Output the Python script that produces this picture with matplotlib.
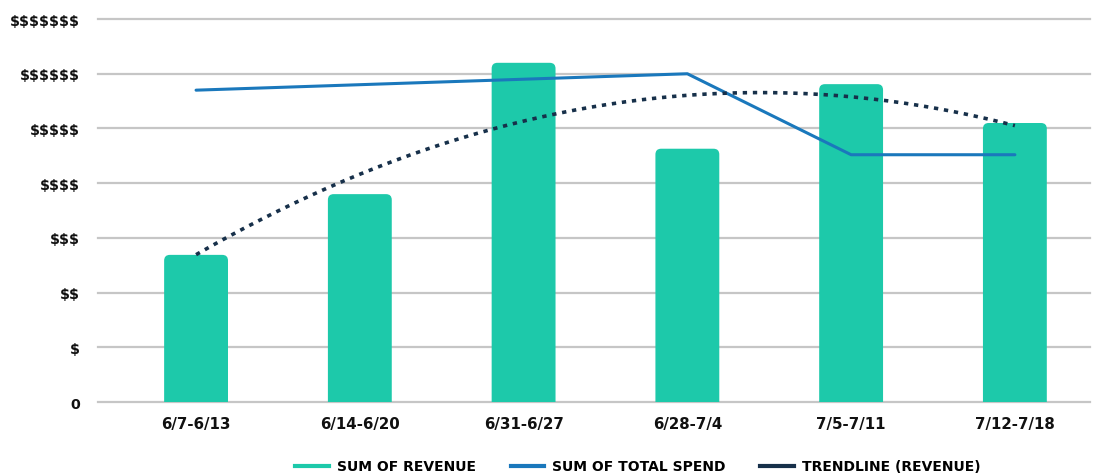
import matplotlib.pyplot as plt
import numpy as np
from matplotlib.lines import Line2D
from matplotlib.patches import FancyBboxPatch

weeks = ["6/7-6/13", "6/14-6/20", "6/31-6/27", "6/28-7/4", "7/5-7/11", "7/12-7/18"]
revenue = [2.69, 3.80, 6.20, 4.63, 5.81, 5.10]
total_spend = [5.70, 5.80, 5.90, 6.00, 4.52, 4.52]
y_ticks = [0, 1, 2, 3, 4, 5, 6, 7]
y_labels = ["0", "$", "$$", "$$$", "$$$$", "$$$$$", "$$$$$$", "$$$$$$$"]

BAR_COLOR = "#1dc9aa"
SPEND_COLOR = "#1a78bc"
TREND_COLOR = "#17304a"
BAR_WIDTH = 0.39

plt.rcParams["font.family"] = ["DejaVu Sans"]
plt.rcParams["text.parse_math"] = False

fig = plt.figure(figsize=(10.99, 4.77), dpi=100)
ax = fig.add_axes([0.089, 0.155, 0.903, 0.803])
ax.set_xlim(-0.6, 5.46)
ax.set_ylim(0, 7)

x = np.arange(len(weeks))
# bars with slightly rounded tops (bottom pushed below 0 and clipped)
for xi, val in zip(x, revenue):
    ax.add_patch(FancyBboxPatch(
        (xi - BAR_WIDTH / 2, -0.3), BAR_WIDTH, val + 0.3,
        boxstyle="round,pad=0,rounding_size=0.035", mutation_aspect=3.0,
        facecolor=BAR_COLOR, edgecolor="none", zorder=2))

ax.plot(x, total_spend, color=SPEND_COLOR, lw=2.2, zorder=3,
        solid_capstyle="round")

# 2nd order polynomial trendline of revenue
coef = np.polyfit(x, revenue, 2)
xs = np.linspace(x[0], x[-1], 200)
ax.plot(xs, np.polyval(coef, xs), color=TREND_COLOR, lw=2.6,
        linestyle=(0, (1.2, 1.6)), zorder=4)

ax.set_yticks(y_ticks)
ax.set_yticklabels(y_labels)
ax.set_xticks(x)
ax.set_xticklabels(weeks)
for y in y_ticks:
    ax.axhline(y, color="#c6c6c6", lw=1.6, zorder=0, clip_on=False)
for side in ["top", "right", "left", "bottom"]:
    ax.spines[side].set_visible(False)
ax.tick_params(axis="both", length=0, colors="#111111")
ax.tick_params(axis="y", pad=13, labelsize=10.3)
ax.tick_params(axis="x", pad=10, labelsize=10.8)
for lab in ax.get_xticklabels() + ax.get_yticklabels():
    lab.set_fontweight("bold")

handles = [
    Line2D([], [], color=BAR_COLOR, lw=3),
    Line2D([], [], color=SPEND_COLOR, lw=3),
    Line2D([], [], color=TREND_COLOR, lw=3),
]
labels = ["SUM OF REVENUE", "SUM OF TOTAL SPEND", "TRENDLINE (REVENUE)"]
fig.legend(handles, labels, loc="center", bbox_to_anchor=(0.5805, 0.02),
           ncol=3, frameon=False, handlelength=2.4, handletextpad=0.6,
           columnspacing=2.5, prop={"weight": "bold", "size": 10})

fig.savefig("out.png", dpi=100)
